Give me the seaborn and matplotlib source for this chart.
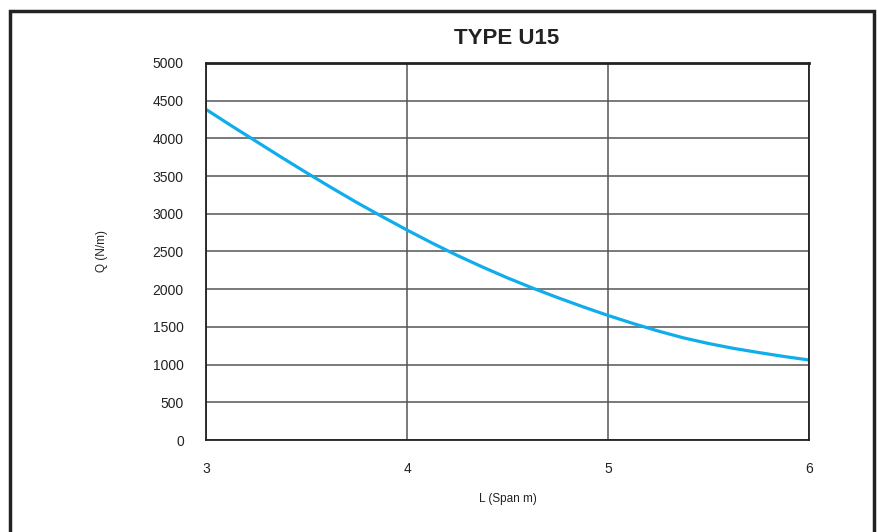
import matplotlib as mpl
import matplotlib.pyplot as plt
from matplotlib.patches import Rectangle
import numpy as np
import pandas as pd
import seaborn as sns

# span (m) vs. allowed load (N/m)
span = [3.0, 3.125, 3.25, 3.375, 3.5, 3.625, 3.75, 3.875, 4.0,
        4.125, 4.25, 4.375, 4.5, 4.625, 4.75, 4.875, 5.0,
        5.125, 5.25, 5.375, 5.5, 5.625, 5.75, 5.875, 6.0]
load = [4385, 4170, 3960, 3750, 3545, 3345, 3150, 2965, 2785,
        2612, 2448, 2295, 2150, 2015, 1888, 1767, 1652,
        1545, 1445, 1355, 1280, 1215, 1160, 1108, 1061]

x_ticks = [3, 4, 5, 6]
y_ticks = list(range(0, 5001, 500))

df = pd.DataFrame({"L": span, "Q": load})

sns.set_style("white")
mpl.rcParams["font.family"] = ["Liberation Sans", "DejaVu Sans"]

fig = plt.figure(figsize=(8.77, 5.32), dpi=100)
ax = fig.add_axes([206 / 877, 92 / 532, 603 / 877, 377 / 532])

sns.lineplot(data=df, x="L", y="Q", ax=ax, color="#0fadeb", linewidth=2.3)

ax.set_xlim(3, 6)
ax.set_ylim(0, 5000)
ax.set_xticks(x_ticks)
ax.set_yticks(y_ticks)
ax.grid(True, color="#555555", linewidth=1.1)
for s in ax.spines.values():
    s.set_color("#222222")
    s.set_linewidth(1.3)
ax.spines["top"].set_linewidth(2.0)
ax.tick_params(length=0, labelsize=10, colors="#222222")
ax.tick_params(axis="x", pad=16)
ax.tick_params(axis="y", pad=16)
ax.set_xlabel("L (Span m)", fontsize=8.5, labelpad=12, color="#222222")
ax.set_ylabel("Q (N/m)", fontsize=8.5, labelpad=32, color="#222222")

fig.text(507 / 877, 1 - 39 / 532, "TYPE U15", ha="center", va="center",
         fontsize=16, fontweight="bold", color="#222222")

# outer frame around the figure
fig.patches.append(Rectangle((10 / 877, -0.05), 864 / 877, 1.05 - 11 / 532,
                             transform=fig.transFigure, fill=False,
                             edgecolor="#222222", linewidth=2.5))

fig.savefig("out.png", dpi=100)
